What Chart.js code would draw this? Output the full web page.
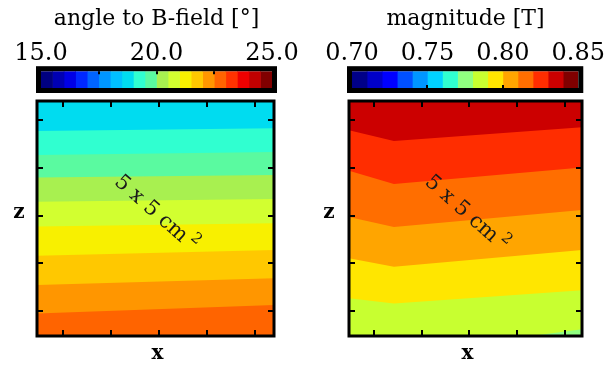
<!DOCTYPE html>
<html>
<head>
<meta charset="utf-8">
<script src="https://cdn.jsdelivr.net/npm/chart.js@4.4.1/dist/chart.umd.min.js"></script>
<style>
  html, body { margin: 0; padding: 0; background: #fff; }
  #figure { position: relative; width: 608px; height: 369px; overflow: hidden; }
  canvas { position: absolute; }
</style>
</head>
<body>
<div id="figure">
  <canvas id="angle-bar" width="304" height="96" style="left:0;top:0"></canvas>
  <canvas id="angle-map" width="304" height="273" style="left:0;top:96px"></canvas>
  <canvas id="mag-bar" width="304" height="96" style="left:304px;top:0"></canvas>
  <canvas id="mag-map" width="304" height="273" style="left:304px;top:96px"></canvas>
</div>
<script>
/**************************************************************
                     ANGLE TO B-FIELD (LEFT)
***************************************************************/
let angleMin = 15.0
let angleMax = 25.0
let angleStep = 0.5
let angleColors = ['#000080', '#0000b4', '#0000e6', '#0028ff', '#0064ff', '#0096ff', '#00c0ff',
                   '#00dcf0', '#30ffd0', '#5afaa0', '#a8f050', '#d2ff30', '#f8f000', '#ffc800',
                   '#ff9600', '#ff6400', '#ff3200', '#ee0000', '#c00000', '#800000']
let angleBarTicks = [15, 20, 25]
let angleBarLabels = ['15.0', '20.0', '25.0']
let angleBarMarks = [17.5, 20, 22.5]
// contour levels (deg) and their z position at the left and right edge of the map
let angleX = [-2.54, 2.40]
let angleLevels = [19.0, 19.5, 20.0, 20.5, 21.0, 21.5, 22.0, 22.5]
let angleContourZ = [
    [1.77, 1.83],
    [1.27, 1.33],
    [0.80, 0.85],
    [0.29, 0.35],
    [-0.23, -0.16],
    [-0.84, -0.72],
    [-1.45, -1.31],
    [-2.05, -1.87]
]

/**************************************************************
                     FIELD MAGNITUDE (RIGHT)
***************************************************************/
let magMin = 0.70
let magMax = 0.85
let magStep = 0.01
let magColors = ['#000088', '#0000c8', '#0000ff', '#0050ff', '#0096ff', '#00d2ff', '#30ffd0',
                 '#90ff80', '#c8ff30', '#ffe600', '#ffa500', '#ff6e00', '#ff2d00', '#cc0000', '#800000']
let magBarTicks = [0.70, 0.75, 0.80, 0.85]
let magBarLabels = ['0.70', '0.75', '0.80', '0.85']
let magBarMarks = [0.75, 0.80]
let magX = [-2.52, -1.58, 2.36]
let magLevels = [0.83, 0.82, 0.81, 0.80, 0.79, 0.78]
let magContourZ = [
    [1.79, 1.56, 1.85],
    [0.94, 0.66, 1.01],
    [-0.03, -0.24, 0.12],
    [-0.89, -1.07, -0.72],
    [-1.73, -1.84, -1.56],
    [-2.80, -2.90, -2.38]
]

/*** shared axis ticks of the maps (cm) ***/
let angleMapXTicks = [-2, -1, 0, 1, 2]
let magMapXTicks = [-2, -1, 0, 1, 2]
let mapZTicks = [-2, -1, 0, 1, 2]

const SERIF = "'DejaVu Serif', serif"

/*** colour of a value on a banded scale ***/
function bandColor(value, min, step, colors) {
    let i = Math.floor((value - min) / step + 1e-6)
    return colors[Math.max(0, Math.min(colors.length - 1, i))]
}

/*** draws the black frame and little marks of the colour bars ***/
const barDecor = {
    id: 'barDecor',
    afterDatasetsDraw(chart, args, opts) {
        const { ctx, chartArea: a } = chart
        const x = chart.scales.x
        ctx.save()
        ctx.strokeStyle = '#000'
        ctx.lineWidth = 2
        opts.marks.forEach(v => {
            const px = Math.round(x.getPixelForValue(v))
            ctx.beginPath()
            if (opts.markSide === 'top') { ctx.moveTo(px, a.top); ctx.lineTo(px, a.top + 3) }
            else { ctx.moveTo(px, a.bottom); ctx.lineTo(px, a.bottom - 3) }
            ctx.stroke()
        })
        ctx.lineWidth = 5
        ctx.strokeRect(a.left - 2.5, a.top - 2.5, a.width + 5, a.height + 5)
        ctx.restore()
    }
}

/*** background band, inner ticks, frame, labels and the 5 x 5 cm2 note of the maps ***/
const mapDecor = {
    id: 'mapDecor',
    beforeDatasetsDraw(chart, args, opts) {
        const { ctx, chartArea: a } = chart
        ctx.save()
        ctx.fillStyle = opts.background
        ctx.fillRect(a.left, a.top, a.width, a.height)
        ctx.restore()
    },
    afterDatasetsDraw(chart, args, opts) {
        const { ctx, chartArea: a, scales: { x, y } } = chart
        ctx.save()
        ctx.strokeStyle = '#000'
        ctx.lineWidth = 2
        ctx.beginPath()
        opts.xTicks.forEach(v => {
            const px = Math.round(x.getPixelForValue(v))
            ctx.moveTo(px, a.top); ctx.lineTo(px, a.top + 6)
            ctx.moveTo(px, a.bottom); ctx.lineTo(px, a.bottom - 6)
        })
        opts.yTicks.forEach(v => {
            const py = Math.round(y.getPixelForValue(v))
            ctx.moveTo(a.left, py); ctx.lineTo(a.left + 6, py)
            ctx.moveTo(a.right, py); ctx.lineTo(a.right - 6, py)
        })
        ctx.stroke()
        ctx.lineWidth = 3
        ctx.strokeRect(a.left, a.top, a.width, a.height)

        // note across the map, with a raised exponent
        const note = opts.note
        ctx.translate(x.getPixelForValue(note.x), y.getPixelForValue(note.y))
        ctx.rotate(note.angle * Math.PI / 180)
        ctx.fillStyle = '#1a1a1a'
        ctx.textAlign = 'left'
        ctx.textBaseline = 'alphabetic'
        ctx.font = '21px ' + SERIF
        const w1 = ctx.measureText(note.text).width
        ctx.font = '15px ' + SERIF
        const w2 = ctx.measureText(note.sup).width
        const x0 = -(w1 + 4 + w2) / 2
        ctx.font = '21px ' + SERIF
        ctx.fillText(note.text, x0, 7)
        ctx.font = '15px ' + SERIF
        ctx.fillText(note.sup, x0 + w1 + 4, -2)
        ctx.setTransform(1, 0, 0, 1, 0, 0)

        // axis names
        ctx.fillStyle = '#000'
        ctx.font = 'bold 20px ' + SERIF
        ctx.textAlign = 'center'
        ctx.textBaseline = 'middle'
        ctx.fillText(opts.zLabel, a.left - opts.zGap, (a.top + a.bottom) / 2 - 6)
        ctx.fillText(opts.xLabel, (a.left + a.right) / 2 + 2, a.bottom + 18)
        ctx.restore()
    }
}

function makeBar(canvasId, title, min, max, step, colors, ticks, labels, marks, markSide, padLeft, padRight) {
    let datasets = colors.map((c, i) => ({
        data: [[min + i * step, min + (i + 1) * step]],
        backgroundColor: c,
        borderWidth: 0,
        barPercentage: 1,
        categoryPercentage: 1
    }))
    return new Chart(document.getElementById(canvasId), {
        type: 'bar',
        data: { labels: [''], datasets: datasets },
        options: {
            responsive: false,
            animation: false,
            events: [],
            indexAxis: 'y',
            layout: { padding: { left: padLeft, right: padRight, top: 0, bottom: 8 } },
            datasets: { bar: { grouped: false } },
            scales: {
                x: {
                    type: 'linear', position: 'top', min: min, max: max,
                    grid: { display: false, drawTicks: false },
                    border: { display: false },
                    afterBuildTicks: scale => { scale.ticks = ticks.map(v => ({ value: v })) },
                    ticks: {
                        padding: 3, color: '#000', maxRotation: 0, autoSkip: false,
                        font: { family: SERIF, size: 24 },
                        callback: (v, i) => labels[i]
                    }
                },
                y: { display: false }
            },
            plugins: {
                legend: { display: false },
                tooltip: { enabled: false },
                title: {
                    display: true, text: title, color: '#000',
                    font: { family: SERIF, size: 22, weight: 'normal' },
                    padding: { top: 6, bottom: 4 }
                },
                barDecor: { marks: marks, markSide: markSide }
            }
        },
        plugins: [barDecor]
    })
}

function makeMap(canvasId, xs, levels, contourZ, min, step, colors, xMin, xMax, xTicks, padLeft, padRight, zGap) {
    let d = levels[1] - levels[0]
    let datasets = levels.map((lev, i) => ({
        data: xs.map((x, k) => ({ x: x, y: contourZ[i][k] })),
        borderColor: 'transparent',
        borderWidth: 0,
        pointRadius: 0,
        tension: 0,
        fill: 'end',
        backgroundColor: bandColor(Math.min(lev, lev - d), min, step, colors)
    }))
    let lastLevel = levels[levels.length - 1]
    return new Chart(document.getElementById(canvasId), {
        type: 'line',
        data: { datasets: datasets },
        options: {
            responsive: false,
            animation: false,
            events: [],
            layout: { padding: { left: padLeft, right: padRight, top: 5, bottom: 33 } },
            scales: {
                x: { type: 'linear', min: xMin, max: xMax, display: false },
                y: { type: 'linear', min: -2.52, max: 2.40, display: false }
            },
            plugins: {
                legend: { display: false },
                tooltip: { enabled: false },
                filler: { propagate: false },
                mapDecor: {
                    background: bandColor(Math.min(lastLevel, lastLevel + d), min, step, colors),
                    xTicks: xTicks, yTicks: mapZTicks,
                    note: { text: '5 x 5 cm', sup: '2', x: -0.04, y: 0.07, angle: 41.5 },
                    xLabel: 'x', zLabel: 'z', zGap: zGap
                }
            }
        },
        plugins: [mapDecor]
    })
}

let angleBar = makeBar('angle-bar', 'angle to B-field [\u00b0]', angleMin, angleMax, angleStep, angleColors,
    angleBarTicks, angleBarLabels, angleBarMarks, 'top', 41, 32)
let angleMap = makeMap('angle-map', angleX, angleLevels, angleContourZ, angleMin, angleStep, angleColors,
    -2.54, 2.40, angleMapXTicks, 37, 30, 18)
let magBar = makeBar('mag-bar', 'magnitude [T]', magMin, magMax, magStep, magColors,
    magBarTicks, magBarLabels, magBarMarks, 'bottom', 48, 29)
let magMap = makeMap('mag-map', magX, magLevels, magContourZ, magMin, magStep, magColors,
    -2.52, 2.36, magMapXTicks, 45, 26, 20)
</script>
</body>
</html>
